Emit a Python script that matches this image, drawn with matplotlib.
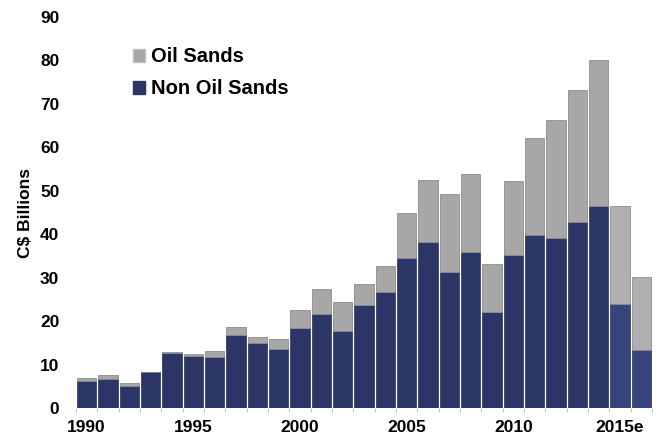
import matplotlib.pyplot as plt
from matplotlib.patches import Patch

years = list(range(1990, 2017))
tick_labels = ["1990", "1995", "2000", "2005", "2010", "2015e"]
non_oil_sands = [6.2, 6.6, 5.1, 8.2, 12.7, 12.0, 11.8, 16.8, 14.9, 13.5,
                 18.5, 21.6, 17.8, 23.6, 26.6, 34.6, 38.2, 31.3, 35.9, 22.1,
                 35.3, 39.8, 39.2, 42.8, 46.5, 24.0, 13.3]
total = [6.8, 7.6, 5.7, 8.3, 12.9, 12.4, 13.1, 18.7, 16.3, 15.8,
         22.5, 27.5, 24.3, 28.5, 32.7, 44.9, 52.4, 49.3, 53.8, 33.1,
         52.3, 62.1, 66.4, 73.3, 80.2, 46.5, 30.1]
oil_sands = [t - n for t, n in zip(total, non_oil_sands)]

plt.rcParams['font.family'] = ['Liberation Sans', 'DejaVu Sans']
plt.rcParams['font.weight'] = 'bold'

fig = plt.figure(figsize=(6.58, 4.42), dpi=100)
ax = fig.add_axes([76 / 658, 34 / 442, 576 / 658, 391 / 442])

x = list(range(len(years)))
navy = ['#2b3566'] * 25 + ['#36457c'] * 2
gray = ['#a7a7a7'] * 25 + ['#b0aeb0'] * 2

ax.bar(x, non_oil_sands, width=0.92, color=navy, edgecolor='#26305c', linewidth=0.5)
ax.bar(x, oil_sands, bottom=non_oil_sands, width=0.92, color=gray,
       edgecolor='#8c8c8c', linewidth=0.6)

ax.set_xlim(-0.5, len(years) - 0.5)
ax.set_ylim(0, 90)
ax.set_yticks(range(0, 91, 10))
ax.set_xticks([0, 5, 10, 15, 20, 25])
ax.set_xticklabels(tick_labels)
ax.set_xticks([k + 0.5 for k in range(-1, len(years))], minor=True)
ax.tick_params(axis='x', which='major', length=0, pad=9, labelsize=12.5)
ax.tick_params(axis='x', which='minor', length=3, color='#bbbbbb', width=0.6)
ax.tick_params(axis='y', length=0, pad=12, labelsize=12.5)
for s in ax.spines.values():
    s.set_visible(False)

ax.set_ylabel("C$ Billions", fontsize=12.5, fontweight='bold', labelpad=5)

handles = [Patch(facecolor='#a7a7a7', edgecolor='#c0c0c0'),
           Patch(facecolor='#2b3566', edgecolor='#2b3566')]
ax.legend(handles, ["Oil Sands", "Non Oil Sands"], loc='upper left',
          bbox_to_anchor=(0.085, 0.943), frameon=False, fontsize=14.5,
          handlelength=0.6, handleheight=0.6, handletextpad=0.3,
          labelspacing=0.65, borderaxespad=0)

fig.savefig("out.png", dpi=100)
